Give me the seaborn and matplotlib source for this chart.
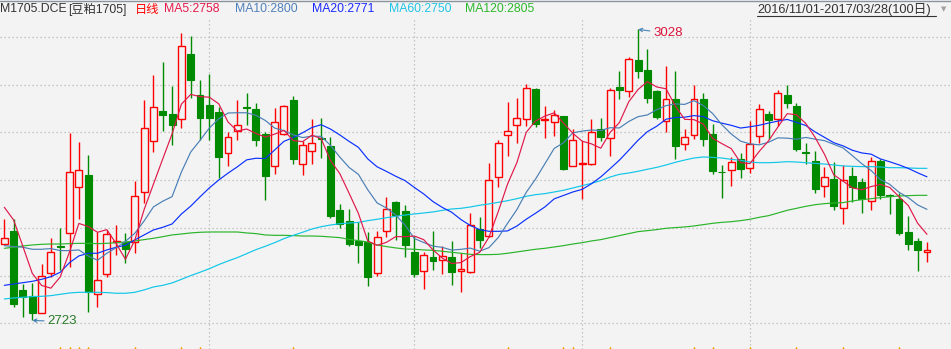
import numpy as np
import pandas as pd
import matplotlib
matplotlib.use("Agg")
import matplotlib.pyplot as plt
from matplotlib.lines import Line2D
import seaborn as sns

# ---------------- data ----------------
opens = [2802.8, 2816.8, 2755.0, 2748.7, 2731.2, 2773.0, 2800.5, 2814.3, 2862.5, 2875.0,
         2750.4, 2771.7, 2805.2, 2805.2, 2804.9, 2857.3, 2910.7, 2942.5, 2939.3, 2934.4,
         3002.2, 2959.2, 2948.8, 2941.4, 2898.1, 2921.2, 2946.3, 2944.6, 2918.4, 2885.2,
         2918.7, 2954.0, 2886.6, 2900.2, 2914.2, 2905.8, 2838.8, 2827.2, 2805.9, 2804.9,
         2772.4, 2816.4, 2847.1, 2837.4, 2794.8, 2774.5, 2789.5, 2786.4, 2789.5, 2774.5,
         2773.5, 2818.5, 2811.2, 2873.0, 2917.0, 2927.5, 2933.7, 2965.2, 2932.7, 2930.6,
         2937.2, 2885.2, 2887.0, 2887.3, 2923.6, 2913.8, 2967.3, 2963.1, 2995.6, 2985.4,
         2963.4, 2932.0, 2955.0, 2907.6, 2917.0, 2955.0, 2918.4, 2878.9, 2880.3, 2891.8,
         2882.4, 2915.9, 2939.0, 2934.4, 2959.2, 2947.7, 2899.2, 2889.7, 2863.6, 2870.9,
         2840.5, 2874.3, 2867.7, 2847.8, 2890.1, 2854.5, 2850.3, 2815.7, 2806.3, 2794.4]
highs = [2829.3, 2829.3, 2761.0, 2762.0, 2781.8, 2809.0, 2819.6, 2919.0, 2909.6, 2896.4,
         2815.4, 2817.8, 2823.0, 2814.3, 2868.8, 2954.0, 2980.2, 2993.8, 2968.7, 3023.8,
         3021.0, 2974.6, 2981.2, 2946.3, 2920.1, 2954.0, 2961.3, 2950.9, 2920.8, 2945.3,
         2948.8, 2958.5, 2911.4, 2934.0, 2935.1, 2915.2, 2845.1, 2839.8, 2825.8, 2815.7,
         2816.8, 2852.0, 2848.2, 2844.0, 2811.5, 2794.4, 2816.8, 2800.7, 2806.3, 2793.4,
         2836.0, 2831.4, 2887.6, 2911.7, 2951.9, 2956.1, 2970.8, 2966.6, 2947.7, 2943.5,
         2937.6, 2924.0, 2910.7, 2934.0, 2935.1, 2966.2, 2984.4, 2999.0, 3028.0, 3007.4,
         2964.8, 2989.6, 2984.4, 2924.0, 2969.7, 2961.7, 2928.5, 2885.9, 2894.3, 2898.1,
         2932.0, 2949.8, 2942.8, 2964.8, 2969.7, 2950.9, 2908.6, 2900.6, 2883.8, 2888.7,
         2885.6, 2883.8, 2872.3, 2894.6, 2892.5, 2855.0, 2856.2, 2832.5, 2809.1, 2805.2]
lows = [2802.8, 2737.5, 2727.0, 2723.0, 2731.0, 2769.0, 2775.9, 2779.4, 2829.3, 2732.3,
        2736.8, 2768.2, 2791.6, 2783.6, 2793.4, 2845.7, 2899.2, 2921.9, 2906.8, 2925.0,
        2956.4, 2912.0, 2912.0, 2872.6, 2885.2, 2912.0, 2927.8, 2905.8, 2849.2, 2876.5,
        2917.3, 2887.0, 2875.4, 2887.0, 2893.6, 2830.7, 2819.6, 2801.4, 2783.6, 2759.5,
        2770.0, 2810.8, 2807.3, 2789.9, 2768.9, 2755.7, 2775.6, 2772.0, 2760.2, 2753.2,
        2772.4, 2799.3, 2810.8, 2863.2, 2895.7, 2909.3, 2926.8, 2926.1, 2914.2, 2916.3,
        2881.0, 2885.2, 2850.3, 2886.3, 2911.4, 2895.7, 2955.4, 2957.5, 2976.7, 2951.2,
        2933.7, 2920.8, 2891.8, 2901.3, 2913.1, 2905.8, 2876.8, 2851.7, 2864.3, 2872.6,
        2877.9, 2908.9, 2912.8, 2926.8, 2946.0, 2900.2, 2887.0, 2856.9, 2852.7, 2838.8,
        2824.4, 2847.5, 2836.0, 2839.1, 2850.6, 2834.9, 2812.9, 2797.2, 2775.2, 2784.6]
closes = [2809.4, 2740.6, 2748.0, 2731.0, 2769.6, 2795.0, 2799.5, 2879.0, 2880.3, 2753.2,
          2765.0, 2813.3, 2806.3, 2797.6, 2853.8, 2924.3, 2947.0, 2938.6, 2928.2, 3010.2,
          2975.3, 2935.5, 2935.5, 2894.0, 2914.9, 2927.5, 2946.0, 2912.4, 2874.7, 2930.6,
          2947.4, 2892.5, 2906.5, 2908.6, 2912.8, 2832.5, 2823.7, 2803.5, 2802.4, 2768.9,
          2810.1, 2839.5, 2833.2, 2802.4, 2772.0, 2791.3, 2785.7, 2790.2, 2774.2, 2776.9,
          2822.7, 2807.7, 2869.8, 2908.6, 2921.2, 2934.8, 2966.2, 2929.2, 2934.1, 2938.3,
          2881.7, 2912.1, 2888.0, 2920.1, 2915.6, 2964.1, 2964.1, 2996.6, 2984.7, 2956.4,
          2936.5, 2954.7, 2906.2, 2914.9, 2954.7, 2913.5, 2880.0, 2878.2, 2888.7, 2881.4,
          2908.3, 2944.2, 2933.4, 2961.0, 2951.2, 2903.0, 2898.1, 2860.4, 2873.0, 2843.3,
          2869.8, 2863.2, 2850.3, 2889.7, 2854.8, 2853.8, 2815.0, 2803.5, 2797.2, 2796.9]

# moving-average values before a full window exists
ma5_head = [2841.6, 2828.3, 2800.4, 2772.4]
ma10_head = [2801.4, 2800.4, 2799.7, 2797.6, 2797.6, 2798.3, 2796.2, 2796.2, 2796.9]
ma20_head = [2759.8, 2761.2, 2762.6, 2764.0, 2766.1, 2768.9, 2773.5, 2783.6, 2790.6, 2793.4,
             2793.4, 2796.9, 2799.7, 2801.8, 2807.4, 2812.6, 2817.8, 2820.6, 2824.1]
ma60 = [2745.5, 2746.6, 2747.3, 2748.0, 2748.3, 2749.0, 2750.4, 2751.8, 2752.5, 2752.5,
        2752.5, 2752.2, 2751.5, 2751.5, 2752.5, 2755.0, 2758.1, 2759.8, 2762.3, 2766.1,
        2770.0, 2773.5, 2777.3, 2781.5, 2785.3, 2788.8, 2793.0, 2797.2, 2800.7, 2804.5,
        2808.7, 2812.2, 2815.4, 2818.8, 2821.3, 2823.0, 2824.4, 2825.1, 2825.8, 2827.6,
        2829.0, 2830.7, 2832.1, 2833.5, 2834.6, 2835.6, 2836.7, 2838.4, 2839.8, 2840.5,
        2841.9, 2843.7, 2845.1, 2846.8, 2848.5, 2850.6, 2853.1, 2854.8, 2855.9, 2857.6,
        2859.4, 2861.8, 2864.2, 2866.7, 2869.5, 2873.3, 2876.1, 2877.5, 2879.3, 2881.4,
        2883.4, 2885.9, 2888.7, 2891.1, 2893.2, 2894.3, 2893.9, 2893.2, 2891.8, 2890.8,
        2889.0, 2888.3, 2888.3, 2888.7, 2889.4, 2889.0, 2888.3, 2887.6, 2886.9, 2885.9,
        2884.9, 2884.5, 2884.2, 2884.2, 2883.8, 2883.1, 2883.1, 2882.8, 2882.4, 2882.4]
ma120 = [2798.6, 2799.7, 2801.1, 2802.1, 2802.8, 2803.1, 2803.1, 2803.5, 2803.8, 2803.8,
         2803.5, 2803.8, 2804.5, 2805.2, 2806.3, 2807.7, 2809.1, 2810.8, 2812.6, 2813.6,
         2814.7, 2815.4, 2815.7, 2815.7, 2815.7, 2815.7, 2814.7, 2814.0, 2812.6, 2812.2,
         2812.2, 2811.9, 2811.5, 2811.5, 2811.2, 2810.5, 2809.8, 2808.0, 2806.6, 2805.2,
         2802.1, 2800.4, 2799.0, 2797.9, 2797.6, 2796.9, 2796.5, 2795.5, 2794.4, 2793.4,
         2792.3, 2792.0, 2792.0, 2792.3, 2793.4, 2794.8, 2796.2, 2797.6, 2798.6, 2800.0,
         2801.4, 2803.1, 2804.5, 2806.3, 2807.7, 2809.8, 2811.9, 2814.0, 2816.1, 2817.1,
         2818.2, 2819.6, 2820.3, 2821.0, 2822.0, 2823.4, 2824.8, 2825.8, 2826.5, 2827.6,
         2829.0, 2831.1, 2832.8, 2835.6, 2838.4, 2840.5, 2842.6, 2844.3, 2845.4, 2846.1,
         2846.5, 2848.2, 2849.6, 2850.6, 2851.7, 2852.7, 2853.4, 2853.8, 2854.1, 2854.1]

grid_prices = [2720, 2770, 2820, 2870, 2920, 2970, 3020]
month_starts = [22, 44, 62, 80]
info_marks = [6, 7, 8, 9, 14, 19, 21, 31, 54, 60, 61, 65, 74, 76, 80, 85, 90, 96]
high_label = "3028"
low_label = "2723"
title_items = [("M1705.DCE", 0, "#333333"), ("[豆粕1705]", 68, "#333333"),
               ("日线", 135, "#ff0000"), ("MA5:2758", 164, "#e6194b"),
               ("MA10:2800", 235, "#4f80bb"), ("MA20:2771", 312, "#1a2aff"),
               ("MA60:2750", 389, "#20c4e6"), ("MA120:2805", 465, "#2db82d")]
date_range = "2016/11/01-2017/03/28(100日)"

# ---------------- derived ----------------
n = len(closes)
idx = np.arange(n)
cs = pd.Series(closes)
ma5 = cs.rolling(5).mean().to_numpy(); ma5[:4] = ma5_head
ma10 = cs.rolling(10).mean().to_numpy(); ma10[:9] = ma10_head
ma20 = cs.rolling(20).mean().to_numpy(); ma20[:19] = ma20_head

# ---------------- style ----------------
sns.set_style("white")
FONTS = ["Liberation Sans", "Noto Sans CJK SC", "DejaVu Sans"]
plt.rcParams["font.family"] = FONTS
BG = "#f3f3f3"
UP = "#ff0000"
DOWN = "#008a00"

W, H = 951, 349
fig = plt.figure(figsize=(W / 100, H / 100), dpi=100, facecolor=BG)
top_px = 17
ax = fig.add_axes([0, 0, 1, (H - top_px) / H])
ax.set_facecolor(BG)
px_per_bar = 9.32
x0_px = 4.3
ax.set_xlim(-x0_px / px_per_bar, (W - x0_px) / px_per_bar)
ax.set_ylim(2693.1, 3040.96)
for s in ax.spines.values():
    s.set_visible(False)
ax.set_xticks([]); ax.set_yticks([])

# grid
for p in grid_prices:
    ax.axhline(p, color="#b8b8b8", lw=0.9, ls=(0, (1, 2.2)), zorder=0)
for m in month_starts:
    ax.axvline(m, color="#b8b8b8", lw=0.9, ls=(0, (1, 2.2)), zorder=0)

# candles
o = np.array(opens); c = np.array(closes); hi = np.array(highs); lo = np.array(lows)
up = c > o
bw = 0.74
# green candles: full wick then filled body
ax.vlines(idx[~up], lo[~up], hi[~up], color=DOWN, lw=1.0, zorder=2)
ax.bar(idx[~up], (o - c)[~up], bottom=c[~up], width=bw, color=DOWN,
       edgecolor=DOWN, linewidth=0.8, zorder=3)
# red candles: hollow body, split wicks
ax.vlines(idx[up], c[up], hi[up], color=UP, lw=1.0, zorder=2)
ax.vlines(idx[up], lo[up], o[up], color=UP, lw=1.0, zorder=2)
ax.bar(idx[up], (c - o)[up], bottom=o[up], width=bw, facecolor=BG,
       edgecolor=UP, linewidth=1.0, zorder=3)

# moving averages
ma_df = pd.DataFrame({"i": idx, "MA5": ma5, "MA10": ma10, "MA20": ma20,
                      "MA60": ma60, "MA120": ma120})
for name, col in [("MA120", "#2ab42a"), ("MA60", "#10c6e8"), ("MA20", "#0a30ff"),
                  ("MA10", "#4a7fb5"), ("MA5", "#e0184a")]:
    sns.lineplot(data=ma_df, x="i", y=name, ax=ax, color=col, lw=0.85,
                 legend=False, zorder=4)
ax.set_xlabel(""); ax.set_ylabel("")
ax.set_xticks([]); ax.set_yticks([])

# info markers at the bottom
ax.scatter(info_marks, [2694.6] * len(info_marks), marker="^", s=7,
           color="#f2a200", zorder=5, clip_on=False, linewidths=0)

# high / low labels
ihi = int(np.argmax(hi)); ilo = int(np.argmin(lo))
ax.annotate(high_label, xy=(ihi, hi[ihi]), xytext=(15, -4), textcoords="offset pixels",
            ha="left", va="center", fontsize=9.5, color="#dc143c",
            arrowprops=dict(arrowstyle="->", color="#4682b4", lw=0.8,
                            shrinkA=0, shrinkB=0, mutation_scale=6), zorder=6)
ax.annotate(low_label, xy=(ilo, lo[ilo]), xytext=(15, -1), textcoords="offset pixels",
            ha="left", va="center", fontsize=9.5, color="#2a7a2a",
            arrowprops=dict(arrowstyle="->", color="#4682b4", lw=0.8,
                            shrinkA=0, shrinkB=0, mutation_scale=6), zorder=6)

# header
ty = 1 - 9.5 / H
for txt, xpx, col in title_items:
    fig.text(xpx / W, ty, txt, ha="left", va="center", fontsize=8.8, color=col,
             family=FONTS)
fig.text(757 / W, ty, date_range, ha="left", va="center", fontsize=9.2,
         color="#333333", family=FONTS)
fig.add_artist(Line2D([757 / W, 936 / W], [1 - 15.5 / H, 1 - 15.5 / H],
                      color="#333333", lw=0.8))
fig.text(944 / W, ty, "▼", ha="center", va="center", fontsize=5, color="#a0a0a0",
         family=["DejaVu Sans"])
fig.add_artist(Line2D([0, 1], [1 - 0.5 / H, 1 - 0.5 / H], color="#8a949e", lw=1.0))

fig.savefig("out.png", dpi=100, facecolor=BG)
